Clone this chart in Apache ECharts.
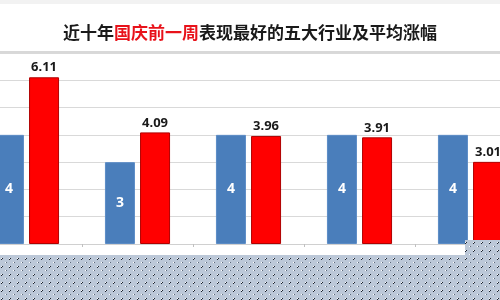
<!DOCTYPE html>
<html><head><meta charset="utf-8">
<script src="https://cdn.jsdelivr.net/npm/echarts@6/dist/echarts.min.js"></script>
<style>html,body{margin:0;padding:0;background:#fff}#c{width:500px;height:300px}</style>
</head><body><div id="c"></div>
<script>
const categories = ['A', 'B', 'C', 'D', 'E'];
const counts = [4, 3, 4, 4, 4];
const avgGains = [6.11, 4.09, 3.96, 3.91, 3.01];
const yTicks = [0, 1, 2, 3, 4, 5, 6, 7];

// dotted overlay pattern
const pc = document.createElement('canvas');
pc.width = 8; pc.height = 8;
const px = pc.getContext('2d');
px.fillStyle = '#bcc8d8'; px.fillRect(0, 0, 8, 8);
px.fillStyle = '#ffffff'; px.fillRect(1, 2, 1, 1); px.fillRect(5, 6, 1, 1);
px.fillStyle = '#1c2430'; px.fillRect(2, 2, 1, 1); px.fillRect(1, 3, 1, 1);
px.fillStyle = '#5d6a7c'; px.fillRect(6, 6, 1, 1);

const chart = echarts.init(document.getElementById('c'));
chart.setOption({
  animation: false,
  backgroundColor: '#ffffff',
  grid: { left: -29, right: -26, top: 53, bottom: 56, containLabel: false, outerBoundsMode: 'none' },
  xAxis: {
    type: 'category', data: categories,
    axisLine: { show: true, lineStyle: { color: '#d0d0d0', width: 1 } },
    axisTick: { show: true, length: 3, lineStyle: { color: '#c0c0c0' } },
    axisLabel: { show: false }
  },
  yAxis: {
    type: 'value', min: yTicks[0], max: yTicks[yTicks.length - 1], interval: 1,
    axisLine: { show: false }, axisTick: { show: false }, axisLabel: { show: false },
    splitLine: { lineStyle: { color: '#d9d9d9', width: 1 } }
  },
  series: [
    {
      type: 'bar', data: counts, barWidth: 30, barGap: '17%',
      itemStyle: { color: '#4a7ebb', borderColor: '#5b8cc6', borderWidth: 1 },
      label: { show: true, position: 'inside', color: '#ffffff', fontWeight: 'bold', fontSize: 14, fontFamily: 'Noto Sans' }
    },
    {
      type: 'bar', data: avgGains, barWidth: 30,
      itemStyle: { color: '#ff0000', borderColor: '#b00000', borderWidth: 1 },
      label: { show: true, position: 'top', distance: 3, color: '#1a1a1a', fontWeight: 'bold', fontSize: 13, fontFamily: 'Noto Sans',
        formatter: p => p.value.toFixed(2) }
    }
  ],
  graphic: [
    { type: 'rect', shape: { x: 0, y: 0, width: 500, height: 52 }, style: { fill: '#ffffff' }, z: 100 },
    { type: 'rect', shape: { x: 0, y: 0, width: 500, height: 4 }, style: { fill: '#f2f2f2' }, z: 101 },
    { type: 'rect', shape: { x: 0, y: 51, width: 500, height: 2 }, style: { fill: '#d8d8d8' }, z: 101 },
    { type: 'text', x: 250, y: 33, z: 102,
      style: { text: '{a|近十年}{b|国庆前一周}{a|表现最好的五大行业及平均涨幅}', align: 'center', verticalAlign: 'middle',
        rich: {
          a: { fontSize: 17, fontWeight: 'bold', fill: '#1a1a1a', fontFamily: 'Noto Sans CJK SC' },
          b: { fontSize: 17, fontWeight: 'bold', fill: '#e8121a', fontFamily: 'Noto Sans CJK SC' }
        } } },
    { type: 'rect', shape: { x: 0, y: 255, width: 500, height: 45 }, style: { fill: { image: pc, repeat: 'repeat' } }, z: 200 },
    { type: 'rect', shape: { x: 465, y: 240, width: 35, height: 15 }, style: { fill: { image: pc, repeat: 'repeat' } }, z: 200 }
  ]
});
</script></body></html>
